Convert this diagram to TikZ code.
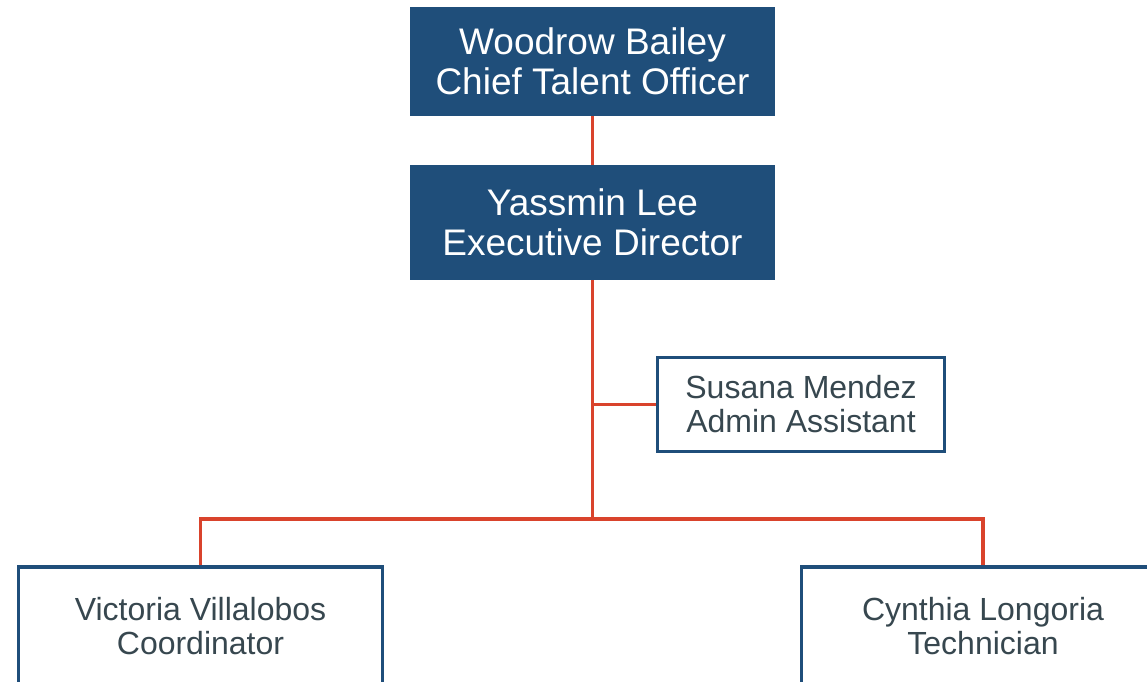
\documentclass[tikz,border=0pt]{standalone}
\usepackage{fontspec}
\setmainfont{Liberation Sans}
\definecolor{boxblue}{HTML}{1F4E7A}
\definecolor{linkred}{HTML}{D9432C}
\definecolor{namegray}{HTML}{37474F}

\tikzset{every picture/.style={line width=0.75pt}}
\tikzset{
  headbox/.style={fill=boxblue, text=white, minimum width=365pt, align=center,
    inner sep=0pt, font=\fontsize{37}{40}\selectfont},
  staffbox/.style={draw=boxblue, line width=3.5pt, fill=white, text=namegray, align=center,
    inner sep=0pt, font=\fontsize{32}{34}\selectfont},
  link/.style={draw=linkred, line width=3.5pt}
}

\begin{document}
\begin{tikzpicture}[x=1pt,y=-1pt]
\useasboundingbox (0,0) rectangle (1147,681);

%Shape: Head boxes
\node [headbox, minimum height=109pt] (bailey) at (592.5,61.5) {Woodrow Bailey\\Chief Talent Officer};
\node [headbox, minimum height=115pt] (lee) at (592.5,222.5) {Yassmin Lee\\Executive Director};

%Shape: Staff boxes
\node [staffbox, minimum width=287pt, minimum height=94pt] (mendez) at (801,404.5) {Susana Mendez\\Admin Assistant};
\node [staffbox, minimum width=364pt, minimum height=118pt] (villalobos) at (200.5,626) {Victoria Villalobos\\Coordinator};
\node [staffbox, minimum width=363pt, minimum height=118pt] (longoria) at (983,626) {Cynthia Longoria\\Technician};

%Straight Lines
\coordinate (bus) at (592.5,519);
\draw [link] (bailey.south) -- (lee.north);
\draw [link] (lee.south) -- (bus);
\draw [link] (lee.south |- mendez.west) -- (mendez.west);
\draw [link] (villalobos.north) |- (bus) -| (longoria.north);

\end{tikzpicture}
\end{document}
